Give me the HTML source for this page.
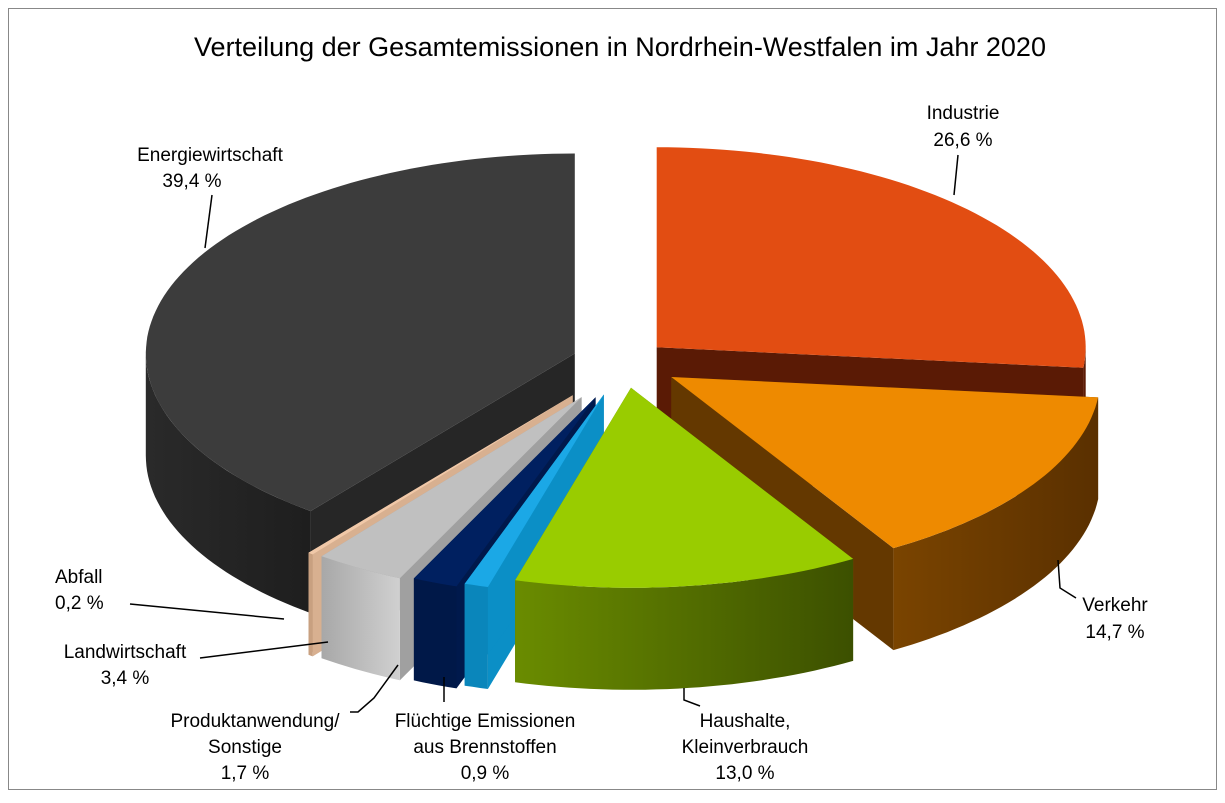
<!DOCTYPE html>
<html><head><meta charset="utf-8"><style>
body{margin:0;background:#fff;}
svg text{font-family:"Liberation Sans",Arial,sans-serif;fill:#000;}
</style></head><body>
<svg id="chart" width="1225" height="798" viewBox="0 0 1225 798" xmlns="http://www.w3.org/2000/svg">
<defs>
<linearGradient id="gH" x1="0" x2="1" y1="0" y2="0"><stop offset="0" stop-color="#6a8c00"/><stop offset="1" stop-color="#3c5000"/></linearGradient>
<linearGradient id="gV" x1="0" x2="1" y1="0" y2="0"><stop offset="0" stop-color="#7a4400"/><stop offset="1" stop-color="#5a3000"/></linearGradient>
<linearGradient id="gE" x1="0" x2="1" y1="0" y2="0"><stop offset="0" stop-color="#2a2a2a"/><stop offset="1" stop-color="#1e1e1e"/></linearGradient>
<linearGradient id="gL" x1="0" x2="1" y1="0" y2="0"><stop offset="0" stop-color="#a8a8a8"/><stop offset="1" stop-color="#d0d0d0"/></linearGradient>
</defs>
<rect x="8.5" y="8.5" width="1208" height="781" fill="#fff" stroke="#888" stroke-width="1"/>
<text x="620" y="56" font-size="27" text-anchor="middle">Verteilung der Gesamtemissionen in Nordrhein-Westfalen im Jahr 2020</text>
<g id="pie"></g>
<g font-size="19">
<text x="210" y="161" text-anchor="middle">Energiewirtschaft</text>
<text x="192" y="187" text-anchor="middle">39,4 %</text>
<polyline points="212,195 205,248" fill="none" stroke="#000" stroke-width="1.5"/>
<text x="963" y="119" text-anchor="middle">Industrie</text>
<text x="963" y="146" text-anchor="middle">26,6 %</text>
<polyline points="958,155 954,195" fill="none" stroke="#000" stroke-width="1.5"/>
<text x="1115" y="611" text-anchor="middle">Verkehr</text>
<text x="1115" y="638" text-anchor="middle">14,7 %</text>
<polyline points="1058,560 1060,588 1076,598" fill="none" stroke="#000" stroke-width="1.5"/>
<text x="745" y="727" text-anchor="middle">Haushalte,</text>
<text x="745" y="753" text-anchor="middle">Kleinverbrauch</text>
<text x="745" y="779" text-anchor="middle">13,0 %</text>
<polyline points="684,688 684,700 700,706" fill="none" stroke="#000" stroke-width="1.5"/>
<text x="485" y="727" text-anchor="middle">Flüchtige Emissionen</text>
<text x="485" y="753" text-anchor="middle">aus Brennstoffen</text>
<text x="485" y="779" text-anchor="middle">0,9 %</text>
<polyline points="444,677 444,702" fill="none" stroke="#000" stroke-width="1.5"/>
<text x="255" y="727" text-anchor="middle">Produktanwendung/</text>
<text x="245" y="753" text-anchor="middle">Sonstige</text>
<text x="245" y="779" text-anchor="middle">1,7 %</text>
<polyline points="398,665 374,698 358,712 350,712" fill="none" stroke="#000" stroke-width="1.5"/>
<text x="125" y="658" text-anchor="middle">Landwirtschaft</text>
<text x="125" y="684" text-anchor="middle">3,4 %</text>
<polyline points="200,658 328,642" fill="none" stroke="#000" stroke-width="1.5"/>
<text x="55" y="583">Abfall</text>
<text x="55" y="609">0,2 %</text>
<polyline points="130,604 284,619" fill="none" stroke="#000" stroke-width="1.5"/>
</g>
</svg>
<script>
const categories = ["Industrie","Verkehr","Haushalte, Kleinverbrauch","Flüchtige Emissionen","Produktanwendung/Sonstige","Landwirtschaft","Abfall","Energiewirtschaft"];
const values = [26.6, 14.7, 13.0, 0.9, 1.7, 3.4, 0.2, 39.4];
const topColors = ["#e24d12","#ee8a00","#99cc00","#1ba8e6","#002060","#c0c0c0","#f0c8a8","#3c3c3c"];
const wallColors = ["#5e1c06","url(#gV)","url(#gH)","#0a86bb","#001848","url(#gL)","#c8a080","url(#gE)"];
const faceColors = ["#5a1a05","#643800","#557200","#0b8fc6","#00194c","#a0a0a0","#d8b090","#262626"];
const explodeDist = [44, 56, 52, 68, 76, 82, 84, 52];

const cx=624, cy=362, rx=429, ry=200, H=102;
const svgNS="http://www.w3.org/2000/svg";
const g=document.getElementById('pie');
function pt(t,ox,oy,dh){const r=t*Math.PI/180;return [cx+ox+rx*Math.sin(r), cy+oy-ry*Math.cos(r)+dh];}
function arc(a,b,ox,oy,dh){const pts=[];const n=Math.max(2,Math.ceil(Math.abs(b-a)/1.5));for(let i=0;i<=n;i++){pts.push(pt(a+(b-a)*i/n,ox,oy,dh));}return pts;}
function P(pts){return "M"+pts.map(p=>p[0].toFixed(1)+","+p[1].toFixed(1)).join("L")+"Z";}
function add(d,fill,name){const p=document.createElementNS(svgNS,'path');p.setAttribute('d',d);p.setAttribute('fill',fill);


g.appendChild(p);}
const total=values.reduce((s,v)=>s+v,0);
let acc=0;const slices=[];
values.forEach((v,i)=>{const a=acc/total*360;acc+=v;const b=acc/total*360;slices.push({i,a,b,m:(a+b)/2});});
slices.sort((s1,s2)=>(-Math.cos(s1.m*Math.PI/180))-(-Math.cos(s2.m*Math.PI/180)));
slices.forEach(s=>{
  const r=s.m*Math.PI/180;const E=explodeDist[s.i];const ox=E*Math.sin(r), oy=-E*0.5*Math.cos(r);
  const c0=[cx+ox,cy+oy], c1=[cx+ox,cy+oy+H];
  const key=categories[s.i].toLowerCase().replace(/[^a-z]+/g,'-');
  [s.a,s.b].forEach(t=>{const e0=pt(t,ox,oy,0),e1=pt(t,ox,oy,H);add(P([c0,e0,e1,c1]),faceColors[s.i],'slice-side-'+key);});
  const lo=Math.max(s.a,90), hi=Math.min(s.b,270);
  if(hi>lo){const top=arc(lo,hi,ox,oy,0), bot=arc(hi,lo,ox,oy,H);add(P(top.concat(bot)),wallColors[s.i],'slice-wall-'+key);}
  add(P([c0].concat(arc(s.a,s.b,ox,oy,0))),topColors[s.i],'slice-'+key);
});
</script>
</body></html>
